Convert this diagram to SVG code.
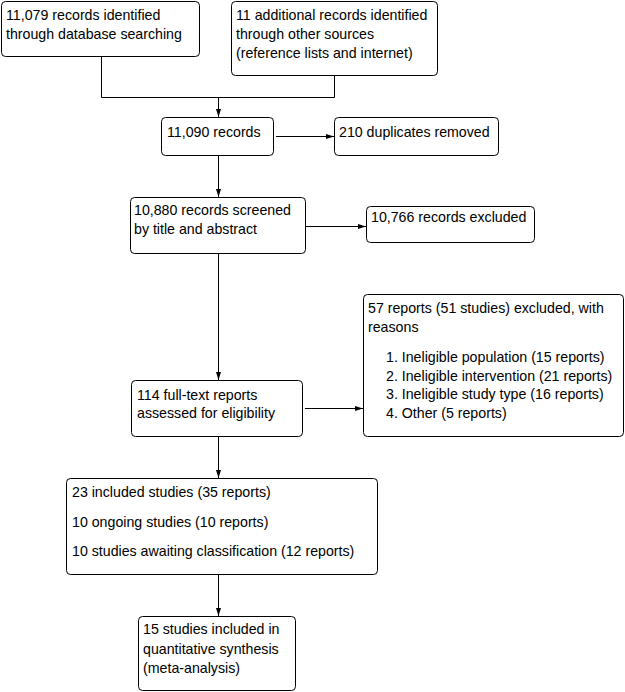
<svg xmlns="http://www.w3.org/2000/svg" width="625" height="692" viewBox="0 0 625 692">
<defs>
<style>
.box{fill:#fff;stroke:#000;stroke-width:1}
.t{font-family:"Liberation Sans",Arial,sans-serif;font-size:14.2px;fill:#000}
.c{fill:none;stroke:#000;stroke-width:1}
</style>
<marker id="ah" viewBox="0 0 8 8" refX="8" refY="4" markerWidth="8" markerHeight="8" markerUnits="userSpaceOnUse" orient="auto">
<path d="M0,1.5 L8,4 L0,6.5 Z" fill="#000"/>
</marker>
</defs>
<rect width="625" height="692" fill="#fff"/>
<g id="connectors">
<path class="c" d="M101.5,57 V97.5 H334.5 V76"/>
<path class="c" d="M218.5,97.5 V117" marker-end="url(#ah)"/>
<path class="c" d="M276,136.5 H334" marker-end="url(#ah)"/>
<path class="c" d="M218.5,155 V197" marker-end="url(#ah)"/>
<path class="c" d="M306,226.5 H366" marker-end="url(#ah)"/>
<path class="c" d="M218.5,253 V380" marker-end="url(#ah)"/>
<path class="c" d="M305,408.5 H363" marker-end="url(#ah)"/>
<path class="c" d="M218.5,437 V478" marker-end="url(#ah)"/>
<path class="c" d="M218.5,574 V616" marker-end="url(#ah)"/>
</g>
<g id="n1"><rect class="box" x="1.5" y="1.5" width="198" height="55" rx="4"/>
<text class="t" x="6" y="20">11,079 records identified</text><text class="t" x="6" y="39">through database searching</text></g>
<g id="n2"><rect class="box" x="231.5" y="1.5" width="206" height="74" rx="4"/>
<text class="t" x="236" y="20">11 additional records identified</text><text class="t" x="236" y="39">through other sources</text><text class="t" x="236" y="58">(reference lists and internet)</text></g>
<g id="n3"><rect class="box" x="161.5" y="117.5" width="112" height="38" rx="4"/>
<text class="t" x="167" y="137">11,090 records</text></g>
<g id="n4"><rect class="box" x="334.5" y="117.5" width="164" height="38" rx="4"/>
<text class="t" x="339" y="137">210 duplicates removed</text></g>
<g id="n5"><rect class="box" x="130.5" y="197.5" width="175" height="56" rx="4"/>
<text class="t" x="134" y="215">10,880 records screened</text><text class="t" x="134" y="234">by title and abstract</text></g>
<g id="n6"><rect class="box" x="366.5" y="206.5" width="168" height="36" rx="4"/>
<text class="t" x="371" y="222">10,766 records excluded</text></g>
<g id="n7"><rect class="box" x="131.5" y="380.5" width="171" height="56" rx="4"/>
<text class="t" x="137" y="400">114 full-text reports</text><text class="t" x="137" y="418">assessed for eligibility</text></g>
<g id="n8"><rect class="box" x="363.5" y="294.5" width="260" height="142" rx="4"/>
<text class="t" x="368" y="313">57 reports (51 studies) excluded, with</text><text class="t" x="368" y="332">reasons</text>
<text class="t" x="386" y="362">1. Ineligible population (15 reports)</text>
<text class="t" x="386" y="381">2. Ineligible intervention (21 reports)</text>
<text class="t" x="386" y="399">3. Ineligible study type (16 reports)</text>
<text class="t" x="386" y="418">4. Other (5 reports)</text></g>
<g id="n9"><rect class="box" x="66.5" y="478.5" width="311" height="96" rx="4"/>
<text class="t" x="72" y="497">23 included studies (35 reports)</text><text class="t" x="72" y="527">10 ongoing studies (10 reports)</text><text class="t" x="72" y="556">10 studies awaiting classification (12 reports)</text></g>
<g id="n10"><rect class="box" x="138.5" y="616.5" width="157" height="74" rx="4"/>
<text class="t" x="143" y="634">15 studies included in</text><text class="t" x="143" y="654">quantitative synthesis</text><text class="t" x="143" y="673">(meta-analysis)</text></g>
</svg>
